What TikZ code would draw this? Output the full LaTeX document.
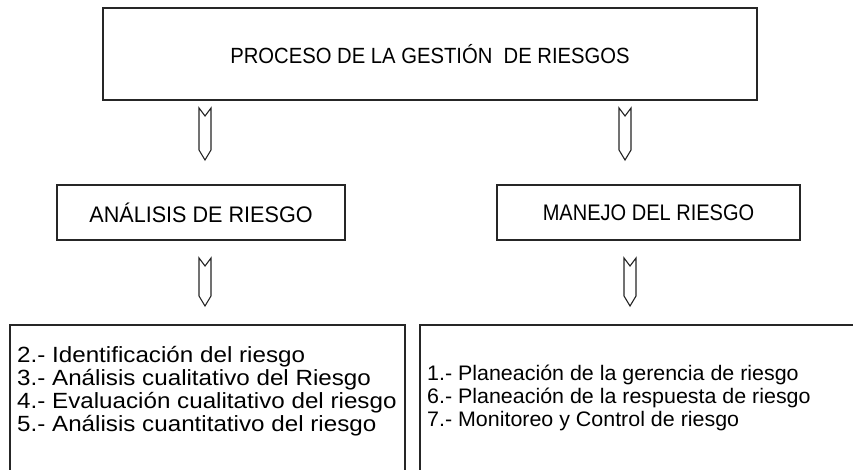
\documentclass[tikz,border=0pt]{standalone}
\usepackage{fontspec}
\setmainfont{Liberation Sans}
\newfontfamily\titlefont[FakeStretch=0.92]{Liberation Sans}
\newfontfamily\midfont[FakeStretch=0.96]{Liberation Sans}
\newfontfamily\manfont[FakeStretch=0.89]{Liberation Sans}
\newfontfamily\leftlistfont[FakeStretch=1.1]{Liberation Sans}
\newfontfamily\rightlistfont[FakeStretch=1.02]{Liberation Sans}
\begin{document}
\begin{tikzpicture}[x=1pt,y=-1pt,
  box/.style={draw=black!85,line width=1.3pt,rectangle,inner sep=0pt},
  ttxt/.style={font=\titlefont\fontsize{22}{25}\selectfont,inner sep=0pt},
  mtxt/.style={font=\midfont\fontsize{22.5}{25}\selectfont,inner sep=0pt},
  mantxtstyle/.style={font=\manfont\fontsize{22.5}{25}\selectfont,inner sep=0pt},
  llist/.style={font=\leftlistfont\fontsize{22}{23}\selectfont,inner sep=0pt,align=left,anchor=west},
  rlist/.style={font=\rightlistfont\fontsize{21}{23}\selectfont,inner sep=0pt,align=left,anchor=west},
  hollow/.style={draw=black!85,line width=1.1pt,line join=miter,fill=white}]
\useasboundingbox (0,0) rectangle (853,470);
\clip (0,0) rectangle (853,470);
\newcommand{\hollowarrow}[3]{%
  \draw[hollow] (#1-6,#2) -- (#1,#2+8) -- (#1+6,#2) -- (#1+6,#3-10) -- (#1,#3) -- (#1-6,#3-10) -- cycle;}
% boxes
\node[box,minimum width=654pt,minimum height=92pt] (top) at (430,54) {};
\node[ttxt] (toptxt) at (top.center) {PROCESO DE LA GESTIÓN\ \ DE RIESGOS};
\node[box,minimum width=288pt,minimum height=55pt] (ana) at (201,212.5) {};
\node[mtxt] (anatxt) at (ana.center) {ANÁLISIS DE RIESGO};
\node[box,minimum width=303pt,minimum height=55pt] (man) at (648.5,212.5) {};
\node[mantxtstyle] (mantxt) at (man.center) {MANEJO DEL RIESGO};
\node[box,minimum width=395pt,minimum height=160pt] (bl) at (207.5,405) {};
\node[box,minimum width=450pt,minimum height=160pt] (br) at (645,405) {};
\node[llist] (bltxt) at (17,391.5) {2.- Identificación del riesgo\\3.- Análisis cualitativo del Riesgo\\4.- Evaluación cualitativo del riesgo\\5.- Análisis cuantitativo del riesgo};
\node[rlist] (brtxt) at (427,398) {1.- Planeación de la gerencia de riesgo\\6.- Planeación de la respuesta de riesgo\\7.- Monitoreo y Control de riesgo};
% hollow arrows
\hollowarrow{205}{108}{160}
\hollowarrow{625}{108}{160}
\hollowarrow{205}{258}{306}
\hollowarrow{630}{258}{306}
\end{tikzpicture}
\end{document}
